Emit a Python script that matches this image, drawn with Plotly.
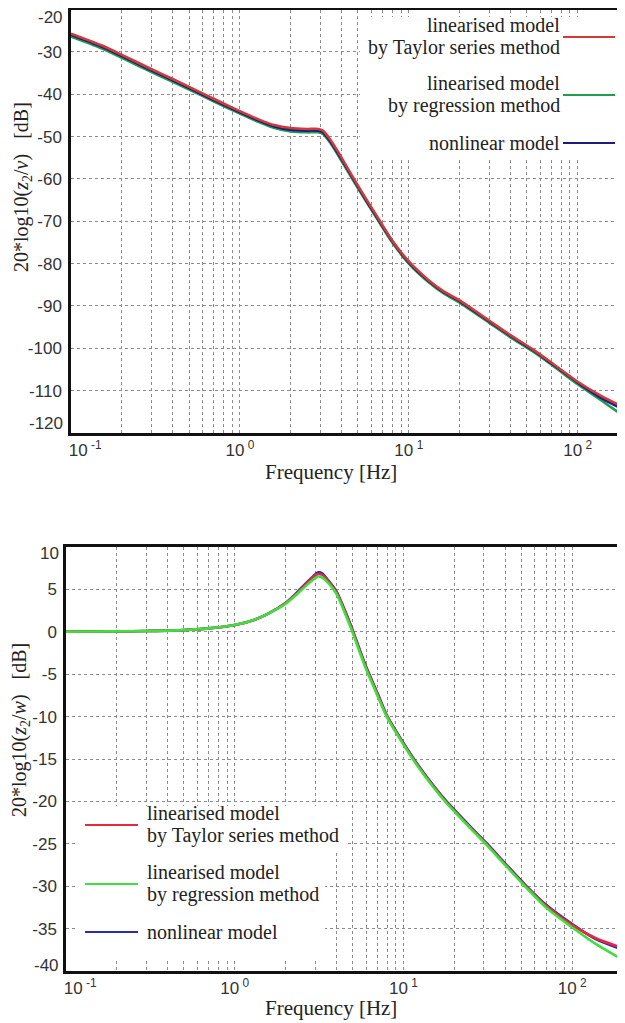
import plotly.graph_objects as go

# ---------------- data ----------------
f_top = [0.1, 0.15, 0.2, 0.3, 0.4, 0.6, 0.8, 1.0, 1.3, 1.6, 2.0, 2.5, 2.9, 3.1, 3.4,
         3.8, 4.5, 5.5, 6.5, 8.0, 10, 13, 16, 20, 30, 40, 54, 70, 100, 140, 190]
taylor_top = [-25.7, -28.4, -30.7, -34.1, -36.4, -39.8, -42.2, -44.0, -46.0, -47.3, -48.0,
              -48.2, -48.2, -48.6, -50.5, -53.5, -58.5, -64.3, -68.9, -74.6, -79.5, -83.8,
              -86.5, -88.7, -93.5, -96.9, -100.2, -103.4, -107.9, -111.4, -114.0]
regression_top = [-26.4, -29.1, -31.4, -34.8, -37.1, -40.4, -42.8, -44.6, -46.6, -48.0, -48.8,
                  -49.0, -49.0, -49.4, -51.3, -54.3, -59.2, -64.9, -69.5, -75.1, -80.0, -84.3,
                  -87.0, -89.2, -94.0, -97.4, -100.7, -103.9, -108.5, -112.5, -116.2]
nonlinear_top = [-26.0, -28.7, -31.0, -34.4, -36.7, -40.1, -42.5, -44.3, -46.3, -47.6, -48.4,
                 -48.6, -48.6, -49.0, -50.9, -53.9, -58.8, -64.6, -69.2, -74.8, -79.7, -84.0,
                 -86.7, -88.9, -93.7, -97.1, -100.4, -103.6, -108.1, -111.9, -114.6]

f_bot = [0.1, 0.2, 0.3, 0.5, 0.7, 1.0, 1.3, 1.6, 2.0, 2.3, 2.6, 2.9, 3.1, 3.3, 3.6, 4.0,
         4.5, 5.0, 5.5, 6.0, 7.0, 8.0, 10, 12, 15, 18, 25, 31, 40, 53, 70, 104, 140, 200]
taylor_bot = [0.0, 0.05, 0.1, 0.2, 0.4, 0.8, 1.4, 2.2, 3.4, 4.4, 5.5, 6.4, 6.8, 6.7, 5.9, 4.7,
              2.4, 0.1, -2.2, -4.2, -7.3, -10.0, -13.2, -15.6, -18.2, -20.1, -23.1, -25.0,
              -27.4, -30.0, -32.3, -34.8, -36.2, -37.3]
regression_bot = [0.0, 0.05, 0.1, 0.2, 0.4, 0.8, 1.4, 2.2, 3.3, 4.3, 5.3, 6.1, 6.5, 6.4, 5.7,
                  4.5, 2.2, -0.1, -2.4, -4.4, -7.5, -10.1, -13.3, -15.7, -18.3, -20.2, -23.2,
                  -25.1, -27.5, -30.1, -32.5, -35.1, -36.9, -38.7]
nonlinear_bot = [0.0, 0.05, 0.1, 0.2, 0.4, 0.8, 1.4, 2.2, 3.4, 4.5, 5.6, 6.5, 7.0, 6.9, 6.0,
                 4.8, 2.5, 0.2, -2.1, -4.1, -7.2, -9.9, -13.1, -15.5, -18.1, -20.0, -23.0,
                 -24.9, -27.3, -29.9, -32.2, -34.7, -36.3, -37.5]

x_tickvals = [0.1, 0.2, 0.3, 0.4, 0.5, 0.6, 0.7, 0.8, 0.9,
              1, 2, 3, 4, 5, 6, 7, 8, 9,
              10, 20, 30, 40, 50, 60, 70, 80, 90, 100]
x_ticktext = ["\u00a0" * 6 + "10\u2009<sup>-1</sup>"] + [""] * 8 + \
             ["10\u2009<sup>0</sup>"] + [""] * 8 + \
             ["10\u2009<sup>1</sup>"] + [""] * 8 + ["10\u2009<sup>2</sup>"]
y_top_ticks = [-20, -30, -40, -50, -60, -70, -80, -90, -100, -110, -120]
y_bot_ticks = [10, 5, 0, -5, -10, -15, -20, -25, -30, -35, -40]

legend_labels = [["linearised model", "by Taylor series method"],
                 ["linearised model", "by regression method"],
                 ["nonlinear model"]]

# ---------------- styling ----------------
# the page body has an 8px margin: figure is sized/offset so that page pixels match
OFF = 8
W, H = 625 - OFF, 1023 - OFF
top_colors = ["#d23a3a", "#1f9e4f", "#1c1c80"]
bot_colors = ["#e8283f", "#3de03d", "#2a2ab4"]
serif = "Liberation Serif"
sans = "Liberation Sans"
LW = 2.6

def px(x):
    return (x - OFF) / W

def py(y):
    return 1 - (y - OFF) / H

def ticktext_y(vals):
    # end labels are drawn as nudged annotations (as in the reference)
    return [""] + [str(v) for v in vals[1:-1]] + [""]

fig = go.Figure()

def line(color):
    return dict(color=color, width=LW, shape="spline", smoothing=0.7)

# top panel: draw order green, blue, red
fig.add_trace(go.Scatter(x=f_top, y=regression_top, mode="lines", line=line(top_colors[1]), xaxis="x", yaxis="y", showlegend=False))
fig.add_trace(go.Scatter(x=f_top, y=nonlinear_top, mode="lines", line=line(top_colors[2]), xaxis="x", yaxis="y", showlegend=False))
fig.add_trace(go.Scatter(x=f_top, y=taylor_top, mode="lines", line=line(top_colors[0]), xaxis="x", yaxis="y", showlegend=False))

# bottom panel: blue, red, green
fig.add_trace(go.Scatter(x=f_bot, y=nonlinear_bot, mode="lines", line=line(bot_colors[2]), xaxis="x2", yaxis="y2", showlegend=False))
fig.add_trace(go.Scatter(x=f_bot, y=taylor_bot, mode="lines", line=line(bot_colors[0]), xaxis="x2", yaxis="y2", showlegend=False))
fig.add_trace(go.Scatter(x=f_bot, y=regression_bot, mode="lines", line=line(bot_colors[1]), xaxis="x2", yaxis="y2", showlegend=False))

tickfont = dict(family=sans, size=17, color="#333")
GRID = "#8c8c8c"
common_x = dict(type="log", tickmode="array", tickvals=x_tickvals, ticktext=x_ticktext,
                showgrid=True, gridcolor=GRID, griddash="dot", gridwidth=1,
                ticks="", showline=True, linecolor="#111", linewidth=2.5, automargin=False,
                tickfont=tickfont, zeroline=False, ticklabelstandoff=0)
common_y = dict(tickmode="array", showgrid=True, gridcolor=GRID, griddash="dot",
                gridwidth=1, ticks="", showline=True, linecolor="#111", linewidth=2.5,
                automargin=False, tickfont=tickfont, zeroline=False, ticklabelstandoff=3)

fig.update_layout(
    template="none",
    width=W, height=H, margin=dict(l=0, r=0, t=0, b=0, pad=0),
    font=dict(family=sans, color="#222"),
    paper_bgcolor="white", plot_bgcolor="white", showlegend=False,
    xaxis=dict(common_x, domain=[px(71), 1.0], range=[-1, 2.28], anchor="y", mirror=True),
    yaxis=dict(common_y, domain=[py(433), py(9.5)], range=[-120, -20], tickvals=y_top_ticks,
               ticktext=ticktext_y(y_top_ticks), anchor="x"),
    xaxis2=dict(common_x, domain=[px(66), px(623)], range=[-1, 2.301], anchor="y2", mirror=True),
    yaxis2=dict(common_y, domain=[py(971), py(547)], range=[-40, 10], tickvals=y_bot_ticks,
                ticktext=ticktext_y(y_bot_ticks), anchor="x2", mirror=True),
)

shapes = []
annotations = []

# nudged end tick labels
for val, xr, yc in [(y_top_ticks[0], 65, 18), (y_top_ticks[-1], 65, 423),
                    (y_bot_ticks[0], 61, 553), (y_bot_ticks[-1], 61, 965)]:
    annotations.append(dict(text=str(val), x=px(xr), y=py(yc), xref="paper", yref="paper",
                            showarrow=False, xanchor="right", yanchor="middle", font=tickfont))

tfont = dict(family=serif, size=20, color="#222")
xtfont = dict(family=serif, size=21, color="#222")
# titles
annotations.append(dict(text="Frequency [Hz]", x=px(331), y=py(472), xref="paper", yref="paper",
                        showarrow=False, font=xtfont, xanchor="center", yanchor="middle"))
annotations.append(dict(text="Frequency [Hz]", x=px(331), y=py(1008), xref="paper", yref="paper",
                        showarrow=False, font=xtfont, xanchor="center", yanchor="middle"))
annotations.append(dict(text="20*log10(<i>z</i><sub>2</sub>/<i>v</i>)\u00a0\u00a0\u00a0[dB]",
                        x=px(23), y=py(187), xref="paper", yref="paper", textangle=-90,
                        showarrow=False, font=tfont, xanchor="center", yanchor="middle"))
annotations.append(dict(text="20*log10(<i>z</i><sub>2</sub>/<i>w</i>)\u00a0\u00a0\u00a0[dB]",
                        x=px(20), y=py(730), xref="paper", yref="paper", textangle=-90,
                        showarrow=False, font=tfont, xanchor="center", yanchor="middle"))

lfont = dict(family=serif, size=20, color="#222")
# top legend (text right-aligned, line on the right)
shapes.append(dict(type="rect", xref="paper", yref="paper", x0=px(360), x1=px(625),
                   y0=py(158), y1=py(17), fillcolor="white", line=dict(width=0), layer="above"))
top_text_rows = [[25, 47], [83, 105], [143]]
top_line_rows = [37, 95, 143]
for i in range(3):
    for j, txt in enumerate(legend_labels[i]):
        annotations.append(dict(text=txt, x=px(562), y=py(top_text_rows[i][j]), xref="paper", yref="paper",
                                showarrow=False, xanchor="right", yanchor="middle", font=lfont))
    shapes.append(dict(type="line", xref="paper", yref="paper", x0=px(563), x1=px(615),
                       y0=py(top_line_rows[i]), y1=py(top_line_rows[i]),
                       line=dict(color=top_colors[i], width=2), layer="above"))

# bottom legend (line on the left, text left-aligned)
shapes.append(dict(type="rect", xref="paper", yref="paper", x0=px(78), x1=px(348),
                   y0=py(852), y1=py(806), fillcolor="white", line=dict(width=0), layer="above"))
shapes.append(dict(type="rect", xref="paper", yref="paper", x0=px(78), x1=px(325),
                   y0=py(958), y1=py(852), fillcolor="white", line=dict(width=0), layer="above"))
bot_text_rows = [[813, 835], [872, 894], [932]]
bot_line_rows = [825, 884, 932]
for i in range(3):
    for j, txt in enumerate(legend_labels[i]):
        annotations.append(dict(text=txt, x=px(145), y=py(bot_text_rows[i][j]), xref="paper", yref="paper",
                                showarrow=False, xanchor="left", yanchor="middle", font=lfont))
    shapes.append(dict(type="line", xref="paper", yref="paper", x0=px(85), x1=px(138),
                       y0=py(bot_line_rows[i]), y1=py(bot_line_rows[i]),
                       line=dict(color=bot_colors[i], width=2), layer="above"))

fig.update_layout(shapes=shapes, annotations=annotations)
fig.write_html("out.html")
